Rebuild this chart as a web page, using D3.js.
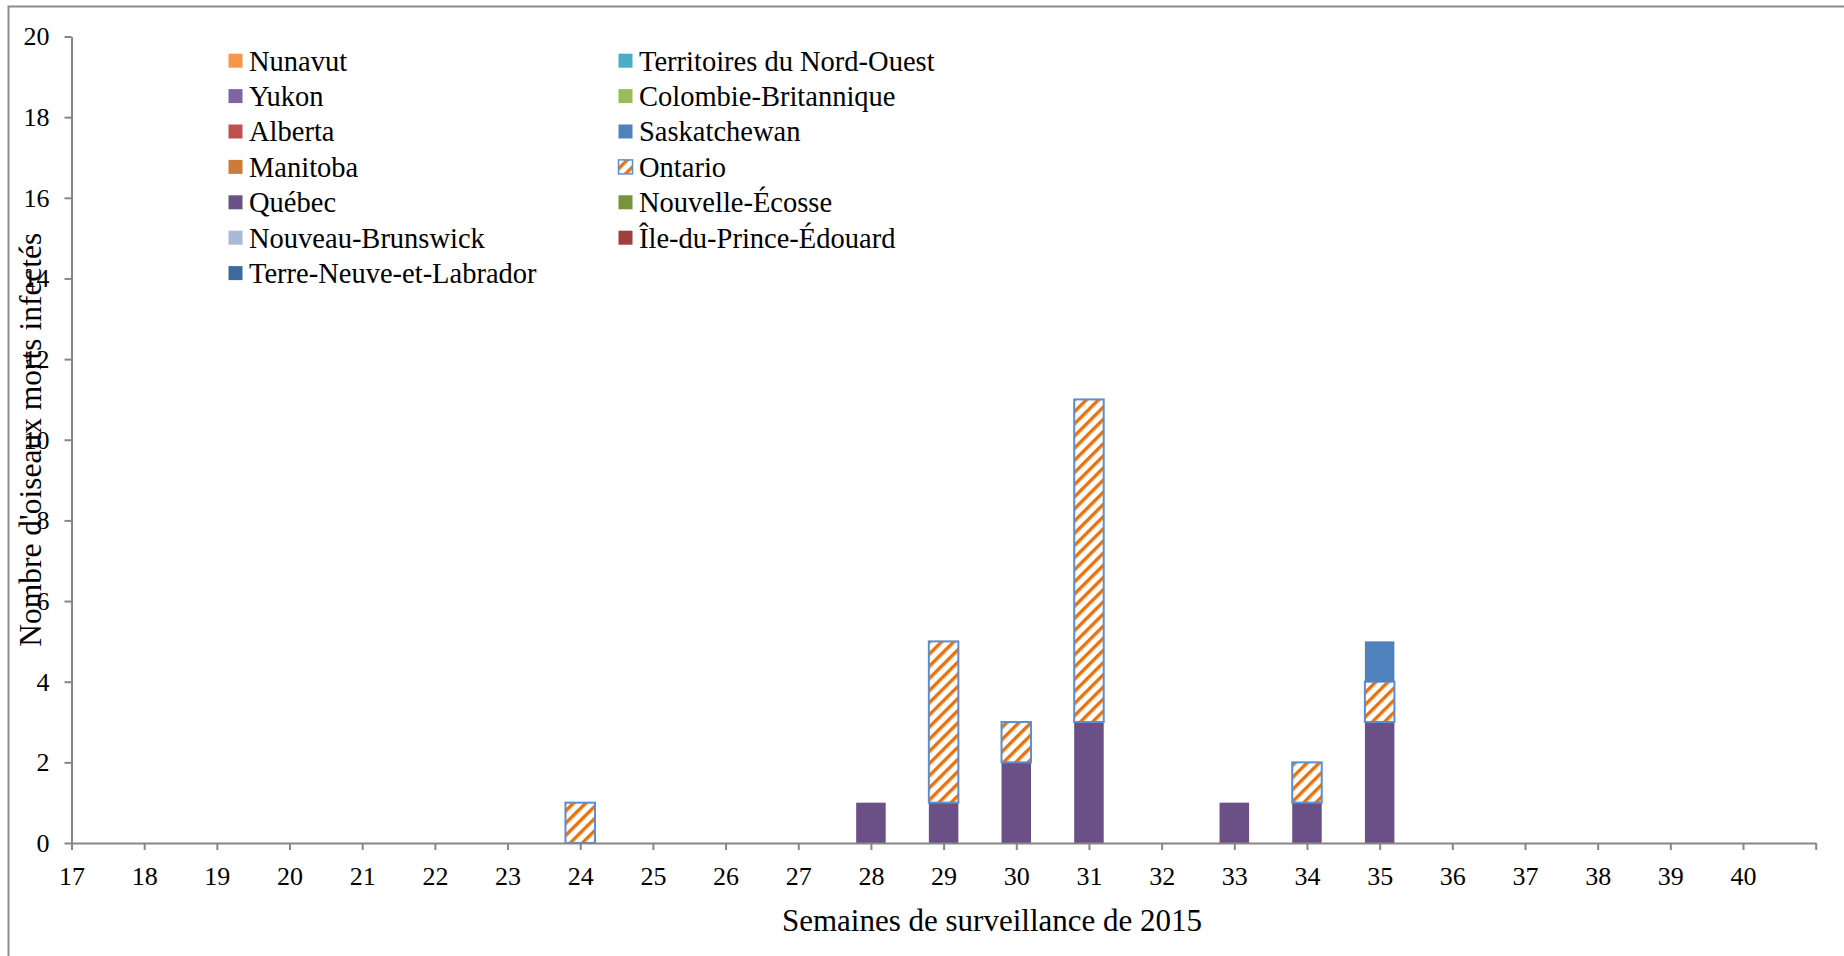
<!DOCTYPE html>
<html>
<head>
<meta charset="utf-8">
<script src="https://cdn.jsdelivr.net/npm/d3@7"></script>
<style>
	body { margin: 0; background: #fff; }
	text { font-family: "Liberation Serif", serif; fill: #000; }
	.axis path, .axis line { stroke: #868686; stroke-width: 2px; }
	.axis text { font-size: 26px; font-family: "Liberation Serif", serif; }
</style>
</head>
<body>
<svg id="chart"></svg>
<script>
// surveillance weeks on the x axis
let weeks = [17, 18, 19, 20, 21, 22, 23, 24, 25, 26, 27, 28, 29, 30, 31, 32, 33, 34, 35, 36, 37, 38, 39, 40];
let yTicks = [0, 2, 4, 6, 8, 10, 12, 14, 16, 18, 20];

// legend order, left column then right column per row
let provinces = ['Nunavut', 'Territoires du Nord-Ouest', 'Yukon', 'Colombie-Britannique',
	'Alberta', 'Saskatchewan', 'Manitoba', 'Ontario', 'Québec', 'Nouvelle-Écosse',
	'Nouveau-Brunswick', 'Île-du-Prince-Édouard', 'Terre-Neuve-et-Labrador'];
let provinceColors = ['#F79646', '#4BACC6', '#8064A2', '#9BBB59', '#C0504D', '#4F81BD',
	'#CD7B38', 'url(#hatch)', '#6A5086', '#77933C', '#A9B9DA', '#A13F3C', '#3C6A9E'];

// counts per week (17 -> 40), only provinces with cases
let quebec = [0, 0, 0, 0, 0, 0, 0, 0, 0, 0, 0, 1, 1, 2, 3, 0, 1, 1, 3, 0, 0, 0, 0, 0];
let ontario = [0, 0, 0, 0, 0, 0, 0, 1, 0, 0, 0, 0, 4, 1, 8, 0, 0, 1, 1, 0, 0, 0, 0, 0];
let saskatchewan = [0, 0, 0, 0, 0, 0, 0, 0, 0, 0, 0, 0, 0, 0, 0, 0, 0, 0, 1, 0, 0, 0, 0, 0];

let w = 1844, h = 956;
let leftX = 71.5, rightX = 1815.7;
let topY = 36.5, baseY = 843;

let chart = d3.select('#chart')
	.attr('width', w)
	.attr('height', h);

// frame around the chart area (runs off the page right/bottom)
chart.append('rect')
	.attr('x', 8.5)
	.attr('y', 6.5)
	.attr('width', w + 20)
	.attr('height', h + 20)
	.attr('fill', 'none')
	.attr('stroke', '#8c8c8c')
	.attr('stroke-width', 2);

// ontario hatch pattern
let defs = chart.append('defs');
let pat = defs.append('pattern')
	.attr('id', 'hatch')
	.attr('patternUnits', 'userSpaceOnUse')
	.attr('width', 8.6)
	.attr('height', 8.6)
	.attr('patternTransform', 'rotate(45)');
pat.append('rect').attr('width', 8.6).attr('height', 8.6).attr('fill', '#fff');
pat.append('rect').attr('width', 3.4).attr('height', 8.6).attr('fill', '#E8720F');

let xScale = d3.scaleLinear()
	.domain([17, 41])
	.range([leftX, rightX]);

let yScale = d3.scaleLinear()
	.domain([0, 20])
	.range([baseY, topY]);

let barWidth = (xScale(1) - xScale(0)) * 0.406;

// stack: québec at bottom, then ontario, then saskatchewan
let table = weeks.map((wk, i) => ({
	week: wk,
	'Québec': quebec[i],
	'Ontario': ontario[i],
	'Saskatchewan': saskatchewan[i]
}));
let stackKeys = ['Québec', 'Ontario', 'Saskatchewan'];
let series = d3.stack().keys(stackKeys)(table);

let colorOf = (name) => provinceColors[provinces.indexOf(name)];

series.forEach((s) => {
	let isOnt = s.key == 'Ontario';
	chart.append('g')
		.selectAll('rect')
		.data(s.filter((d) => d[1] > d[0]))
		.enter()
		.append('rect')
		.attr('x', (d) => xScale(d.data.week) - barWidth / 2)
		.attr('y', (d) => yScale(d[1]))
		.attr('width', barWidth)
		.attr('height', (d) => yScale(d[0]) - yScale(d[1]))
		.attr('fill', colorOf(s.key))
		.attr('stroke', isOnt ? '#5A8ED0' : 'none')
		.attr('stroke-width', isOnt ? 2 : 0);
});

// AXES
let yAxis = d3.axisLeft(yScale)
	.tickValues(yTicks)
	.tickSize(7)
	.tickPadding(15)
	.tickSizeOuter(0);

chart.append('g')
	.attr('class', 'axis')
	.attr('transform', `translate(${leftX},0)`)
	.call(yAxis);

let xAxis = d3.axisBottom(xScale)
	.tickValues(d3.range(17, 42))
	.tickFormat((d) => d == 41 ? '' : d)
	.tickSize(7)
	.tickPadding(17)
	.tickSizeOuter(0);

chart.append('g')
	.attr('class', 'axis')
	.attr('transform', `translate(0,${baseY})`)
	.call(xAxis);

// LABELS
chart.append('text')
	.attr('x', 992)
	.attr('y', 931)
	.style('text-anchor', 'middle')
	.style('font-size', '31px')
	.text('Semaines de surveillance de 2015');

chart.append('text')
	.attr('transform', 'rotate(-90)')
	.attr('x', -(topY + baseY) / 2)
	.attr('y', 41)
	.style('text-anchor', 'middle')
	.style('font-size', '31.5px')
	.text("Nombre d'oiseaux morts infectés");

// LEGEND two columns
let legend = chart.append('g');
let item = legend.selectAll('g')
	.data(provinces)
	.enter()
	.append('g')
	.attr('transform', (d, i) => `translate(${i % 2 == 0 ? 228 : 618},${60.7 + Math.floor(i / 2) * 35.4})`);

item.append('rect')
	.attr('x', 0.5)
	.attr('y', -7)
	.attr('width', 14)
	.attr('height', 14)
	.attr('fill', (d, i) => provinceColors[i])
	.attr('stroke', (d) => d == 'Ontario' ? '#5A8ED0' : 'none')
	.attr('stroke-width', 1.5);

item.append('text')
	.attr('x', 21)
	.attr('dy', '0.35em')
	.style('font-size', '28.5px')
	.text((d) => d);
</script>
</body>
</html>
